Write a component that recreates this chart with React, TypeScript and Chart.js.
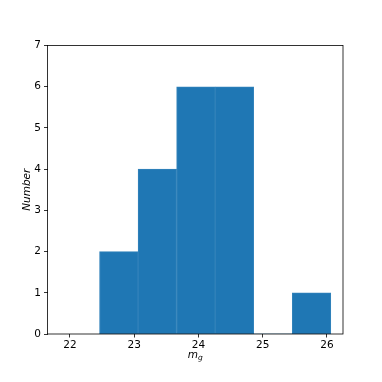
import React, { useEffect, useRef } from "react";
import { Chart, registerables } from "chart.js";

Chart.register(...registerables);

const binEdges = [22.46, 23.06, 23.66, 24.26, 24.86, 25.46, 26.06];
const counts = [2, 4, 6, 6, 0, 1];
const xTicks = [22, 23, 24, 25, 26];
const yTicks = [0, 1, 2, 3, 4, 5, 6, 7];
const xLabel = { base: "m", sub: "g" };
const yLabel = "Number";

const FONT = "'DejaVu Sans', sans-serif";
const FS = 10.5;

export default function App() {
  const ref = useRef<HTMLCanvasElement>(null);
  useEffect(() => {
    document.body.style.margin = "0";
    const points = counts.map((c, i) => ({ x: (binEdges[i] + binEdges[i + 1]) / 2, y: c }));
    const boxPlugin = {
      id: "boxAndLabels",
      afterDraw(chart: any) {
        const { ctx, chartArea: a } = chart;
        ctx.save();
        ctx.strokeStyle = "#000";
        ctx.lineWidth = 0.8;
        ctx.strokeRect(a.left, a.top, a.right - a.left, a.bottom - a.top);
        ctx.fillStyle = "#000";
        // y label
        ctx.save();
        ctx.translate(27, (a.top + a.bottom) / 2);
        ctx.rotate(-Math.PI / 2);
        ctx.font = `italic ${FS}px ${FONT}`;
        ctx.textAlign = "center";
        ctx.textBaseline = "middle";
        ctx.fillText(yLabel, 0, 0);
        ctx.restore();
        // x label with subscript
        ctx.font = `italic ${FS}px ${FONT}`;
        const wb = ctx.measureText(xLabel.base).width;
        ctx.font = `italic 7.5px ${FONT}`;
        const ws = ctx.measureText(xLabel.sub).width;
        const cx = (a.left + a.right) / 2;
        const x0 = cx - (wb + ws) / 2;
        ctx.textAlign = "left";
        ctx.textBaseline = "alphabetic";
        ctx.font = `italic ${FS}px ${FONT}`;
        ctx.fillText(xLabel.base, x0, 358);
        ctx.font = `italic 7.5px ${FONT}`;
        ctx.fillText(xLabel.sub, x0 + wb, 360);
        ctx.restore();
      },
    };
    const chart = new Chart(ref.current!, {
      type: "bar",
      data: {
        datasets: [
          {
            data: points,
            backgroundColor: "#1f77b4",
            borderColor: "#3383bb",
            borderWidth: (c: any) => (c.raw && c.raw.y > 0 ? 1 : 0),
            borderSkipped: false,
            barPercentage: 1,
            categoryPercentage: 1,
          },
        ],
      },
      options: {
        animation: false,
        responsive: false,
        layout: { padding: { top: 45.5, right: 39, left: 0, bottom: 0 } },
        plugins: { legend: { display: false }, tooltip: { enabled: false } },
        scales: {
          x: {
            type: "linear",
            min: 21.65,
            max: 26.25,
            offset: false,
            afterFit: (s: any) => { s.height = 48; },
            afterBuildTicks: (s: any) => { s.ticks = xTicks.map((v) => ({ value: v })); },
            grid: { display: true, offset: false, drawOnChartArea: false, drawTicks: true, tickLength: 3.5, color: "#000", lineWidth: 0.8 },
            border: { display: false },
            ticks: { color: "#000", font: { family: FONT, size: FS }, padding: 1, maxRotation: 0, callback: (v: any) => String(v) },
          },
          y: {
            type: "linear",
            min: 0,
            max: 7,
            afterFit: (s: any) => { s.width = 47.5; },
            afterBuildTicks: (s: any) => { s.ticks = yTicks.map((v) => ({ value: v })); },
            grid: { display: true, drawOnChartArea: false, drawTicks: true, tickLength: 3.5, color: "#000", lineWidth: 0.8 },
            border: { display: false },
            ticks: { color: "#000", font: { family: FONT, size: FS }, padding: 3, callback: (v: any) => String(v) },
          },
        },
      },
      plugins: [boxPlugin],
    } as any);
    return () => chart.destroy();
  }, []);
  return (
    <div style={{ position: "absolute", left: 0, top: 0, width: 382, height: 382, background: "#fff" }}>
      <canvas ref={ref} width={382} height={382} style={{ width: 382, height: 382 }} />
    </div>
  );
}
